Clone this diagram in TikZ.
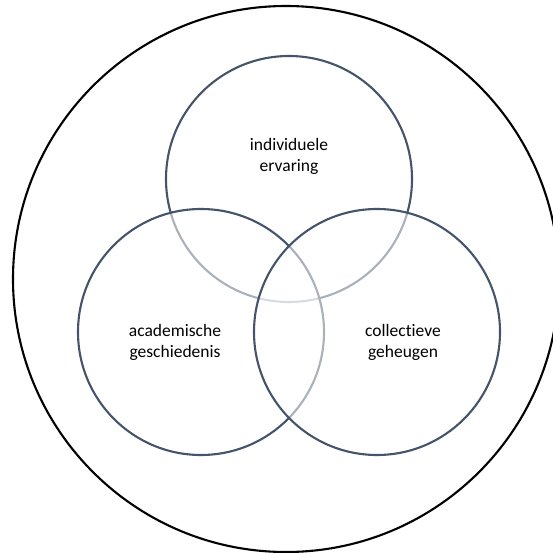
\documentclass[tikz,border=0pt]{standalone}
\usepackage{fontspec}
\setmainfont[Ligatures=NoCommon]{Carlito}
\begin{document}
\begin{tikzpicture}[x=1pt,y=-1pt,
  setc/.style={circle,draw=setline,line width=2.1pt,fill=white,fill opacity=0.55,draw opacity=1,minimum size=246pt,inner sep=0pt},
  lab/.style={align=center,font=\fontsize{17.5}{21}\selectfont,text=black,inner sep=0pt}]
\definecolor{setline}{HTML}{44546A}
\useasboundingbox (0,0) rectangle (553,553);
\node[circle,draw=black,line width=2.1pt,minimum size=546pt,inner sep=0pt] (outer) at (286,279) {};
\node[setc] (top) at (289,179) {};
\node[setc] (left) at (201,332) {};
\node[setc] (right) at (377,332) {};
\node[lab] (ttop) at (289,156) {individuele\\ervaring};
\node[lab] (tleft) at (175,342) {academische\\geschiedenis};
\node[lab] (tright) at (403,342) {collectieve\\geheugen};
\end{tikzpicture}
\end{document}
